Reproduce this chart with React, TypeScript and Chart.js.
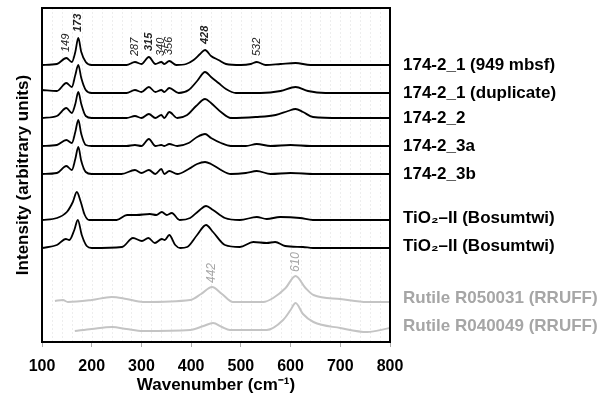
import { useEffect, useRef } from "react";
import { Chart, registerables } from "chart.js";

Chart.register(...registerables);

// Series names (top to bottom)
const seriesNames = [
  "174-2_1 (949 mbsf)",
  "174-2_1 (duplicate)",
  "174-2_2",
  "174-2_3a",
  "174-2_3b",
  "TiO\u2082\u2013II (Bosumtwi)",
  "TiO\u2082\u2013II (Bosumtwi)",
  "Rutile R050031 (RRUFF)",
  "Rutile R040049 (RRUFF)",
];
const seriesColors = ["#000", "#000", "#000", "#000", "#000", "#000", "#000", "#c4c4c4", "#c4c4c4"];
const labelColors = ["#000", "#000", "#000", "#000", "#000", "#000", "#000", "#a6a6a6", "#a6a6a6"];

// Vertical stacking offsets (arbitrary units)
const offsets = [277, 249, 224, 196, 168, 122, 94, 40, 12];

// Spectra: [wavenumber, intensity above own baseline]
const s1 = [[100,0],[130,1],[149,7],[160,3],[167,13],[173,27],[179,13],[188,3],[200,0],[270,0],[287,3],[300,1],[315,8],[328,1],[340,3],[346,1],[356,4],[370,0],[390,1],[405,5],[418,11],[428,15],[440,9],[455,5],[470,1],[500,0],[520,1],[532,3],[550,0],[580,1],[610,2],[640,0],[800,0]];
const s2 = [[100,3],[130,2],[149,10],[160,6],[167,18],[173,28],[179,15],[188,3],[200,0],[270,0],[287,3],[300,1],[315,6],[328,1],[340,3],[346,1],[356,5],[375,0],[395,3],[412,12],[428,21],[440,16],[455,10],[470,4],[490,0],[540,0],[580,2],[610,6],[635,2],[670,0],[800,0]];
const s3 = [[100,0],[130,2],[149,10],[160,5],[167,14],[173,26],[179,14],[188,2],[200,0],[270,0],[287,2],[300,0],[315,4],[328,0],[340,3],[346,0],[356,6],[372,0],[392,3],[410,12],[428,19],[440,15],[460,6],[480,0],[530,1],[570,3],[595,7],[610,9],[625,6],[645,1],[700,0],[800,0]];
const s4 = [[100,0],[130,1],[149,6],[160,3],[167,14],[173,26],[179,12],[188,1],[200,0],[270,0],[287,1],[300,0],[315,7],[328,0],[340,1],[346,0],[356,2],[372,0],[395,3],[412,9],[428,12],[440,8],[460,3],[480,0],[510,0],[532,2],[560,0],[600,1],[640,0],[800,0]];
const s5 = [[100,0],[130,1],[149,8],[160,4],[167,15],[173,27],[179,13],[188,2],[200,0],[260,0],[287,4],[300,1],[315,4],[328,0],[340,5],[346,0],[356,3],[372,0],[395,5],[412,10],[428,12],[440,10],[460,4],[480,0],[510,1],[532,3],[560,0],[600,1],[650,0],[800,0]];
const s6 = [[100,0],[130,2],[150,8],[162,18],[170,28],[178,18],[186,5],[195,0],[250,0],[271,5],[290,5],[317,6],[330,5],[341,8],[351,5],[361,7],[377,0],[398,2],[415,9],[430,14],[444,10],[468,2],[498,0],[532,3],[552,1],[579,3],[619,2],[645,0],[800,0]];
const s7 = [[100,0],[130,3],[148,9],[155,8],[165,18],[172,28],[180,13],[190,2],[200,0],[261,1],[283,10],[301,7],[314,10],[327,5],[341,9],[347,8],[356,13],[368,3],[378,0],[392,1],[412,13],[430,23],[444,16],[468,3],[498,1],[525,6],[552,5],[569,6],[589,2],[625,1],[645,0],[800,0]];
const s8 = [[126,1],[142,2],[152,0],[200,2],[240,5],[270,3],[303,0],[398,2],[420,8],[442,15],[462,8],[484,0],[545,0],[565,4],[590,14],[610,26],[630,14],[646,7],[700,3],[754,0],[800,0]];
const s9 = [[166,-1],[200,1],[241,3],[270,1],[303,-1],[398,0],[425,4],[444,7],[462,3],[478,0],[552,0],[585,10],[600,20],[610,27],[625,16],[646,8],[700,2],[754,-2],[800,2]];
const spectra = [s1, s2, s3, s4, s5, s6, s7, s8, s9];

// Peak annotations
const peakLabels = [149, 173, 287, 315, 340, 356, 428, 532];
const boldPeaks = [173, 315, 428];
const rutilePeaks = [442, 610];

// Axis
const xTicks = [100, 200, 300, 400, 500, 600, 700, 800];

const FONT = '"Liberation Sans", Arial, sans-serif';

function valueAt(series: number[][], wn: number): number {
  const p = series.find((d) => d[0] === wn);
  return p ? p[1] : 0;
}

const overlay = {
  id: "overlay",
  beforeDatasetsDraw(chart: any) {
    const { ctx, chartArea: a, scales } = chart;
    const x = scales.x;
    ctx.save();
    ctx.strokeStyle = "rgba(0,0,0,0.07)";
    ctx.lineWidth = 1;
    ctx.setLineDash([2, 2]);
    for (let w = 120; w < 800; w += 20) {
      const px = Math.round(x.getPixelForValue(w)) + 0.5;
      ctx.beginPath();
      ctx.moveTo(px, a.top);
      ctx.lineTo(px, a.bottom);
      ctx.stroke();
    }
    ctx.restore();
  },
  afterDatasetsDraw(chart: any) {
    const { ctx, chartArea: a, scales } = chart;
    const x = scales.x;
    const y = scales.y;
    ctx.save();
    // frame
    ctx.strokeStyle = "#000";
    ctx.lineWidth = 2;
    ctx.setLineDash([]);
    ctx.strokeRect(a.left, a.top, a.right - a.left, a.bottom - a.top);

    // series labels
    ctx.textAlign = "left";
    ctx.textBaseline = "middle";
    ctx.font = `bold 17px ${FONT}`;
    seriesNames.forEach((n, i) => {
      ctx.fillStyle = labelColors[i];
      const py = y.getPixelForValue(offsets[i]) - (i >= 7 ? 4 : i >= 5 ? 2 : 0);
      ctx.fillText(n, a.right + 13, py);
    });

    const drawRot = (text: string, px: number, py: number, font: string, color: string) => {
      ctx.save();
      ctx.translate(px, py);
      ctx.rotate(-Math.PI / 2);
      ctx.font = font;
      ctx.fillStyle = color;
      ctx.textAlign = "left";
      ctx.textBaseline = "middle";
      ctx.fillText(text, 0, 0);
      ctx.restore();
    };

    peakLabels.forEach((p) => {
      const bold = boldPeaks.includes(p);
      const px = x.getPixelForValue(p);
      const py = y.getPixelForValue(offsets[0] + valueAt(s1, p)) - 6;
      drawRot(String(p), px, py, `italic ${bold ? "bold " : ""}11px ${FONT}`, "#222");
    });
    rutilePeaks.forEach((p) => {
      const px = x.getPixelForValue(p);
      const py = y.getPixelForValue(offsets[7] + valueAt(s8, p)) - 4;
      drawRot(String(p), px, py, `italic 12px ${FONT}`, "#a6a6a6");
    });
    ctx.restore();
  },
};

export default function App() {
  const ref = useRef<HTMLCanvasElement | null>(null);
  useEffect(() => {
    if (!ref.current) return;
    const chart = new Chart(ref.current, {
      type: "line",
      data: {
        datasets: spectra.map((s, i) => ({
          label: seriesNames[i],
          data: s.map(([wn, v]) => ({ x: wn, y: v + offsets[i] })),
          borderColor: seriesColors[i],
          borderWidth: i >= 7 ? 2 : 1.8,
          pointRadius: 0,
          fill: false,
          cubicInterpolationMode: "monotone" as const,
        })),
      },
      options: {
        responsive: false,
        animation: false,
        layout: { padding: { left: 0, top: 8, right: 222, bottom: 0 } },
        plugins: { legend: { display: false }, tooltip: { enabled: false } },
        scales: {
          x: {
            type: "linear",
            min: 100,
            max: 800,
            afterBuildTicks: (s: any) => {
              s.ticks = xTicks.map((v) => ({ value: v }));
            },
            ticks: {
              color: "#000",
              font: { family: FONT, size: 16, weight: "bold" },
              padding: 10,
              maxRotation: 0,
              autoSkip: false,
            },
            grid: { display: true, drawOnChartArea: false, drawTicks: true, tickLength: 5, tickColor: "#aaa" },
            border: { display: false },
            title: {
              display: true,
              text: "Wavenumber (cm\u207B\u00B9)",
              color: "#000",
              font: { family: FONT, size: 17, weight: "bold" },
              padding: { top: 0, bottom: 0 },
            },
            afterFit: (s: any) => {
              s.height = 54;
            },
          },
          y: {
            type: "linear",
            min: 0,
            max: 334,
            ticks: { display: false },
            grid: { display: false },
            border: { display: false },
            title: {
              display: true,
              text: "Intensity (arbitrary units)",
              color: "#000",
              font: { family: FONT, size: 17, weight: "bold" },
              padding: { top: 13, bottom: 0 },
            },
            afterFit: (s: any) => {
              s.width = 42;
            },
          },
        },
      },
      plugins: [overlay],
    });
    return () => chart.destroy();
  }, []);
  return (
    <div style={{ position: "absolute", left: 0, top: 0, width: 612, height: 396, background: "#fff" }}>
      <canvas ref={ref} width={612} height={396} style={{ display: "block" }} />
    </div>
  );
}
